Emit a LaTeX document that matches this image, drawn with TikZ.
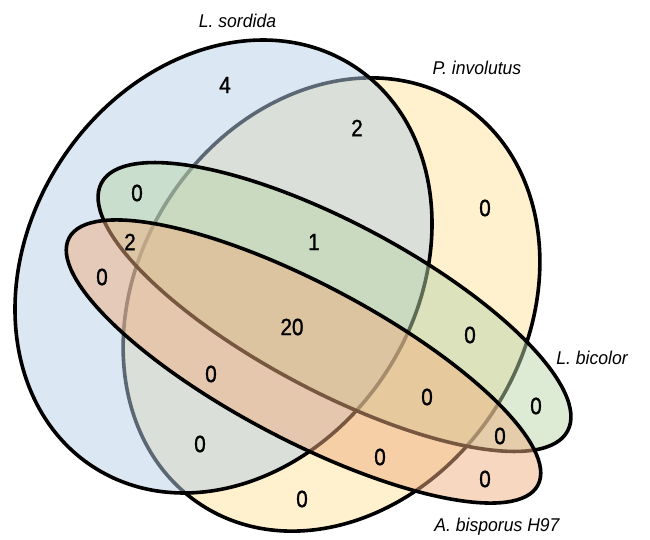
\documentclass[tikz,border=0pt]{standalone}
\usepackage{fontspec}
\setmainfont{Liberation Sans}
\newfontfamily\numfont[FakeStretch=0.88,FakeBold=1.2]{Liberation Sans}
\newfontfamily\lblfont[FakeStretch=0.95]{Liberation Sans}
\begin{document}
\begin{tikzpicture}[x=1pt,y=1pt,
  setline/.style={line width=3.6pt, draw=black, fill opacity=0.5},
  num/.style={font=\numfont\fontsize{23.5}{25}\selectfont, inner sep=0pt},
  setlabel/.style={font=\lblfont\fontsize{18.5}{20}\selectfont\itshape, inner sep=0pt}]
\definecolor{cblue}{RGB}{183,207,231}
\definecolor{cyellow}{RGB}{255,225,157}
\definecolor{cgreen}{RGB}{187,213,169}
\definecolor{corange}{RGB}{239,175,129}
\useasboundingbox (0,0) rectangle (650,539);
% P. involutus (yellow)
\draw[setline, fill=cyellow, rotate around={57:(331.5,234.5)}] (331.5,234.5) ellipse [x radius=239, y radius=194];
% L. sordida (blue)
\draw[setline, fill=cblue, rotate around={56.8:(223.5,272.5)}] (223.5,272.5) ellipse [x radius=239, y radius=194];
% L. bicolor (green)
\draw[setline, fill=cgreen, rotate around={-28:(334.5,232)}] (334.5,232) ellipse [x radius=264, y radius=84];
% A. bisporus H97 (orange)
\draw[setline, fill=corange, rotate around={-27.8:(303.5,177.5)}] (303.5,177.5) ellipse [x radius=265, y radius=78];
% set labels
\node[setlabel] (ls) at (237.5,518) {L. sordida};
\node[setlabel] (pi) at (477,471) {P. involutus};
\node[setlabel] (lb) at (592,181) {L. bicolor};
\node[setlabel] (ab) at (497,12) {A. bisporus H97};
% counts
\node[num] (n1) at (225,454) {4};
\node[num] (n2) at (357,411) {2};
\node[num] (n3) at (485,331) {0};
\node[num] (n4) at (137,346) {0};
\node[num] (n5) at (130,297) {2};
\node[num] (n6) at (314,297) {1};
\node[num] (n7) at (102,262) {0};
\node[num] (n8) at (292,212) {20};
\node[num] (n9) at (470,204) {0};
\node[num] (n10) at (211,165) {0};
\node[num] (n11) at (200,95) {0};
\node[num] (n12) at (427,142) {0};
\node[num] (n13) at (536,133) {0};
\node[num] (n14) at (500,103) {0};
\node[num] (n15) at (380,82) {0};
\node[num] (n16) at (302,40) {0};
\node[num] (n17) at (485,60) {0};
\end{tikzpicture}
\end{document}
